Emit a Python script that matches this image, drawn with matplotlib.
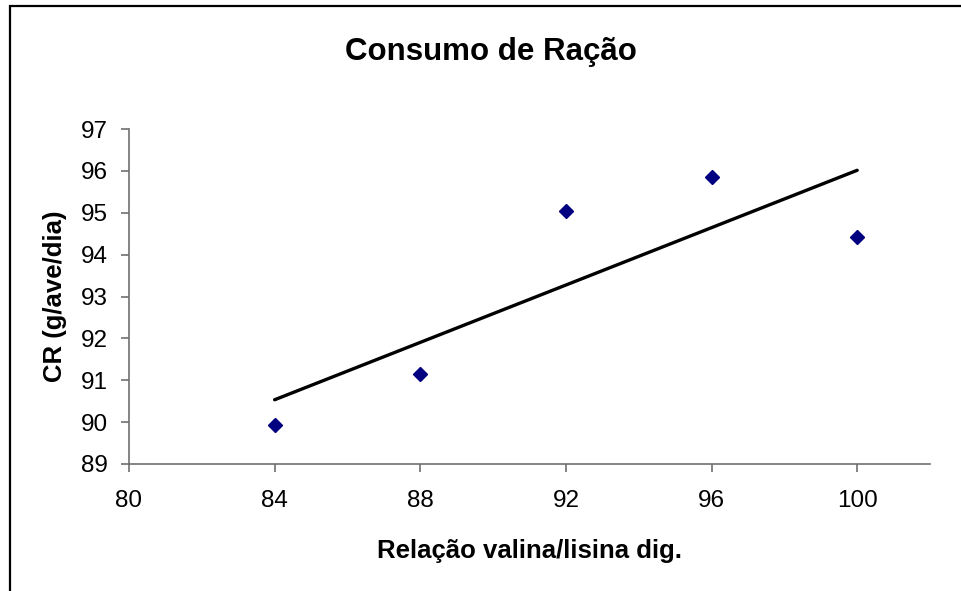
import numpy as np
import matplotlib
matplotlib.use("Agg")
import matplotlib.pyplot as plt
from matplotlib.patches import Rectangle

plt.rcParams['font.family'] = ['Liberation Sans', 'DejaVu Sans']

# Data
relacao = [84, 88, 92, 96, 100]
consumo = [89.92, 91.15, 95.03, 95.85, 94.42]
x_ticks = [80, 84, 88, 92, 96, 100]
y_ticks = [89, 90, 91, 92, 93, 94, 95, 96, 97]

title = "Consumo de Ração"
xlabel = "Relação valina/lisina dig."
ylabel = "CR (g/ave/dia)"

W, H = 961, 591
fig = plt.figure(figsize=(W / 100, H / 100), dpi=100)
ax = fig.add_axes([129 / W, 1 - 464 / H, (930 - 129) / W, (464 - 129) / H])

# Linear trend line computed from the data
coef = np.polyfit(relacao, consumo, 1)
xt = np.array([min(relacao), max(relacao)])
ax.plot(xt, np.polyval(coef, xt), color='black', lw=2.4, solid_capstyle='round', zorder=2)

ax.plot(relacao, consumo, linestyle='none', marker='D', markersize=7.3,
        color='#000080', markeredgecolor='#000080', zorder=3)

ax.set_xlim(80, 102)
ax.set_ylim(89, 97)
ax.set_xticks(x_ticks)
ax.set_yticks(y_ticks)
ax.set_xticklabels([str(v) for v in x_ticks])
ax.set_yticklabels([str(v) for v in y_ticks])

axis_color = '#707070'
for s in ['top', 'right']:
    ax.spines[s].set_visible(False)
for s in ['left', 'bottom']:
    ax.spines[s].set_color(axis_color)
    ax.spines[s].set_linewidth(1.2)
ax.tick_params(axis='both', direction='out', length=6, width=1.2, color=axis_color,
               labelsize=17.5, labelcolor='black')
ax.tick_params(axis='x', pad=13)
ax.tick_params(axis='y', pad=9)

ax.set_xlabel(xlabel, fontsize=18.5, fontweight='bold', labelpad=19)
ax.set_ylabel(ylabel, fontsize=18.5, fontweight='bold', labelpad=10)

fig.text(491 / W, 1 - 52 / H, title, ha='center', va='center',
         fontsize=22.5, fontweight='bold')

# Chart-area border (left and top visible in the reference)
fig.patches.append(Rectangle((9.5 / W, -0.1), 1.2, 1 - 5.5 / H + 0.1,
                             transform=fig.transFigure, fill=False,
                             edgecolor='black', lw=1.6, zorder=0))

fig.savefig("out.png", dpi=100, facecolor='white')
